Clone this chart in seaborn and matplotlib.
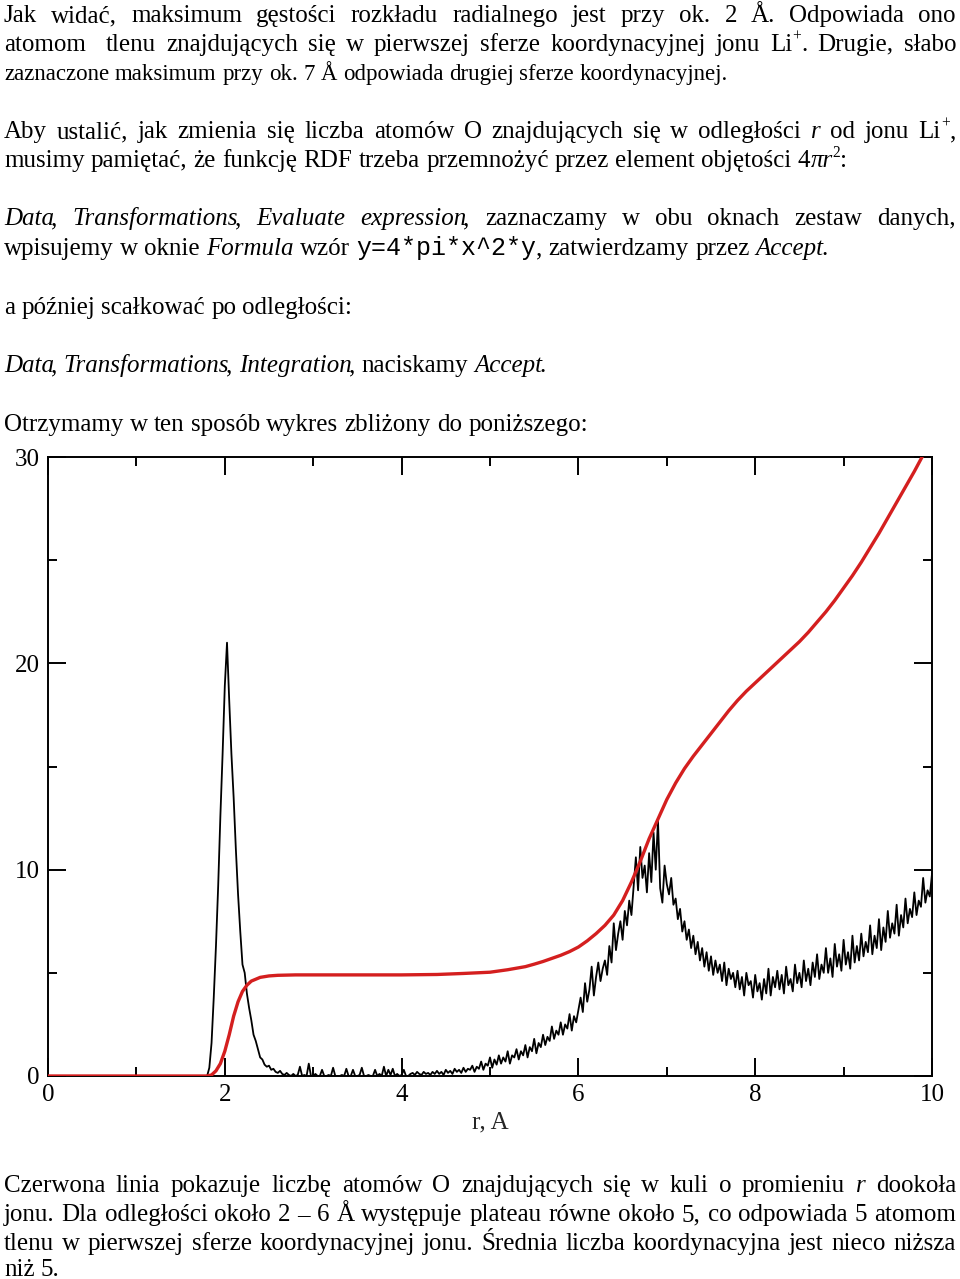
import numpy as np
import pandas as pd
import matplotlib
matplotlib.use("Agg")
import matplotlib.pyplot as plt
import seaborn as sns
from matplotlib.ticker import MultipleLocator

sns.set_style("ticks")
plt.rcParams['font.family'] = ['Liberation Serif', 'DejaVu Serif']

# ---------------- data ----------------
# radial distribution g(r), sampled every 0.025 A from 0 to 10
g_before_peak = [0.0] * 72          # r = 0.000 ... 1.775
g_rdf = [
    # 1.800 - 2.275
    0.0, 0.4, 1.6, 3.8, 6.3, 9.2, 12.6, 15.6, 18.9, 21.0, 18.2, 15.6, 13.5, 11.0, 8.8, 7.0, 5.4, 5.0, 4.0, 3.3,
    # 2.300 - 2.775
    2.7, 2.0, 1.7, 1.3, 0.9, 0.8, 0.55, 0.45, 0.5, 0.3, 0.35, 0.2, 0.15, 0.25, 0.1, 0.05, 0.15, 0.05, 0.0, 0.1,
    # 2.800 - 3.275
    0.0, 0.05, 0.45, 0.0, 0.05, 0.0, 0.6, 0.0, 0.0, 0.1, 0.0, 0.0, 0.3, 0.0, 0.0, 0.05, 0.0, 0.4, 0.0, 0.0,
    # 3.300 - 3.775
    0.0, 0.05, 0.0, 0.35, 0.0, 0.0, 0.3, 0.0, 0.0, 0.05, 0.4, 0.0, 0.0, 0.05, 0.0, 0.0, 0.3, 0.0, 0.1, 0.0,
    # 3.800 - 4.275
    0.45, 0.0, 0.3, 0.05, 0.35, 0.0, 0.1, 0.0, 0.05, 0.3, 0.0, 0.0, 0.1, 0.15, 0.05, 0.2, 0.1, 0.05, 0.2, 0.1,
    # 4.300 - 4.775
    0.15, 0.05, 0.2, 0.1, 0.25, 0.1, 0.2, 0.05, 0.3, 0.15, 0.25, 0.1, 0.35, 0.2, 0.3, 0.15, 0.4, 0.2, 0.35, 0.3,
    # 4.800 - 5.275
    0.5, 0.2, 0.45, 0.35, 0.7, 0.3, 0.6, 0.5, 0.9, 0.4, 0.8, 0.55, 1.0, 0.6, 0.9, 0.7, 1.2, 0.6, 1.0, 0.9,
    # 5.300 - 5.775
    1.3, 0.8, 1.2, 1.0, 1.5, 0.9, 1.4, 1.2, 1.8, 1.1, 1.6, 1.4, 2.0, 1.5, 1.9, 1.7, 2.4, 1.8, 2.2, 2.0,
    # 5.800 - 6.275
    2.6, 2.0, 2.5, 2.3, 3.0, 2.2, 2.9, 2.6, 3.2, 3.8, 3.1, 4.5, 3.6, 4.2, 5.3, 3.9, 4.8, 5.5, 4.6, 5.2,
    # 6.300 - 6.775
    5.6, 4.9, 6.3, 5.5, 7.4, 6.1, 6.9, 7.5, 6.6, 8.0, 7.3, 8.5, 7.8, 9.2, 10.6, 9.0, 11.1, 9.6, 10.2, 8.9,
    # 6.800 - 7.275
    10.8, 9.4, 11.8, 10.0, 12.4, 9.1, 8.4, 10.2, 9.3, 8.8, 9.6, 8.3, 8.6, 7.6, 8.1, 7.0, 7.5, 6.6, 7.1, 6.2,
    # 7.300 - 7.775
    6.8, 5.9, 6.5, 5.6, 6.2, 5.3, 6.0, 5.1, 5.8, 4.9, 5.6, 5.0, 5.4, 4.6, 5.5, 4.4, 5.2, 4.7, 5.0, 4.3,
    # 7.800 - 8.275
    5.1, 4.2, 4.8, 3.9, 5.0, 4.4, 4.6, 3.8, 4.9, 4.1, 4.5, 3.7, 4.7, 4.0, 5.2, 3.9, 4.8, 4.3, 5.1, 4.2,
    # 8.300 - 8.775
    4.9, 4.0, 5.3, 4.4, 4.7, 4.1, 5.4, 4.5, 5.0, 4.3, 5.6, 4.6, 5.2, 4.4, 5.5, 4.8, 5.9, 4.7, 5.4, 5.0,
    # 8.800 - 9.275
    6.2, 5.0, 5.7, 4.8, 6.4, 5.3, 5.9, 5.1, 6.6, 5.4, 6.0, 5.2, 6.8, 5.5, 6.3, 5.6, 6.9, 5.8, 6.5, 6.0,
    # 9.300 - 9.775
    7.3, 5.9, 6.8, 6.2, 7.6, 6.1, 7.2, 6.5, 8.0, 6.7, 7.4, 6.9, 8.3, 6.8, 7.8, 7.2, 8.6, 7.4, 8.1, 7.7,
    # 9.800 - 10.000
    8.9, 7.8, 8.5, 8.2, 9.6, 8.4, 9.0, 8.7, 9.8,
]
g_values = g_before_peak + g_rdf
r_grid = np.linspace(0.0, 10.0, len(g_values))

# running coordination number N(r)
r_red = [0.0, 1.8, 1.85, 1.9, 1.95, 2.0, 2.05, 2.1, 2.15, 2.2, 2.25, 2.3, 2.4, 2.5, 2.6, 2.8,
         3.0, 3.5, 4.0, 4.4, 4.7, 5.0, 5.2, 5.4, 5.5, 5.6, 5.7, 5.8, 5.9, 6.0, 6.1, 6.2, 6.3,
         6.4, 6.5, 6.6, 6.7, 6.8, 6.9, 7.0, 7.1, 7.2, 7.3, 7.4, 7.5, 7.6, 7.7, 7.8, 7.9, 8.0,
         8.1, 8.2, 8.3, 8.4, 8.5, 8.6, 8.7, 8.8, 8.9, 9.0, 9.1, 9.2, 9.3, 9.4, 9.5, 9.6, 9.7,
         9.8, 9.9, 10.0]
n_red = [0.0, 0.0, 0.05, 0.25, 0.6, 1.2, 2.0, 2.9, 3.6, 4.1, 4.4, 4.6, 4.78, 4.85, 4.88, 4.9,
         4.9, 4.9, 4.9, 4.92, 4.97, 5.03, 5.15, 5.3, 5.42, 5.55, 5.7, 5.85, 6.03, 6.25, 6.55, 6.9, 7.3,
         7.8, 8.5, 9.4, 10.4, 11.5, 12.45, 13.4, 14.2, 14.9, 15.5, 16.05, 16.6, 17.15, 17.7, 18.2, 18.65, 19.05,
         19.45, 19.85, 20.25, 20.65, 21.05, 21.5, 22.0, 22.5, 23.05, 23.65, 24.25, 24.9, 25.6, 26.3, 27.05, 27.8, 28.55,
         29.3, 30.1, 30.9]

x_ticks = [0, 2, 4, 6, 8, 10]
y_ticks = [0, 10, 20, 30]
x_label = "r, A"

# ---------------- page text ----------------
text_lines = [
    # (baseline px, text with markup, justified, font size)
    (22,  "Jak widać, maksimum gęstości rozkładu radialnego jest przy ok. 2 Å. Odpowiada ono", True, 18),
    (51,  "atomom  tlenu znajdujących się w pierwszej sferze koordynacyjnej jonu Li[s]+[n]. Drugie, słabo", True, 18),
    (80,  "zaznaczone maksimum przy ok. 7 Å odpowiada drugiej sferze koordynacyjnej.", False, 16.5),
    (138, "Aby ustalić, jak zmienia się liczba atomów O znajdujących się w odległości [i]r od jonu Li[s]+[n],", True, 18),
    (167, "musimy pamiętać, że funkcję RDF trzeba przemnożyć przez element objętości 4[i]πr[s]2[n]:", False, 18),
    (225, "[i]Data[n], [i]Transformations[n], [i]Evaluate [i]expression[n], zaznaczamy w obu oknach zestaw danych,", True, 18),
    (255, "wpisujemy w oknie [i]Formula wzór [m]y=4*pi*x^2*y[n], zatwierdzamy przez [i]Accept[n].", False, 18),
    (314, "a później scałkować po odległości:", False, 18),
    (372, "[i]Data[n], [i]Transformations[n], [i]Integration[n], naciskamy [i]Accept[n].", False, 18),
    (431, "Otrzymamy w ten sposób wykres zbliżony do poniższego:", False, 18),
    (1192, "Czerwona linia pokazuje liczbę atomów O znajdujących się w kuli o promieniu [i]r dookoła", True, 18),
    (1221, "jonu. Dla odległości około 2 – 6 Å występuje plateau równe około 5, co odpowiada 5 atomom", True, 18),
    (1250, "tlenu w pierwszej sferze koordynacyjnej jonu. Średnia liczba koordynacyjna jest nieco niższa", True, 18),
    (1276, "niż 5.", False, 18),
]

W, H = 960, 1279
FS = 18
SERIF = ['Liberation Serif', 'DejaVu Serif']


def style_props(style, size):
    if style == 'i':
        return dict(family=SERIF, style='italic', size=size)
    if style == 'm':
        return dict(family=['Liberation Mono', 'DejaVu Sans Mono'], size=size)
    if style == 's':
        return dict(family=SERIF, size=size * 0.62)
    return dict(family=SERIF, style='normal', size=size)


fig = plt.figure(figsize=(W / 100, H / 100), dpi=100)
fig.patch.set_facecolor('white')
renderer = fig.canvas.get_renderer()


def parse_word(word):
    segs = []
    style = 'n'
    i = 0
    buf = ''
    while i < len(word):
        if word[i] == '[' and i + 2 < len(word) and word[i + 2] == ']':
            if buf:
                segs.append((buf, style))
                buf = ''
            style = word[i + 1]
            i += 3
            continue
        buf += word[i]
        i += 1
    if buf:
        segs.append((buf, style))
    return segs


_cache = {}


def measure(text, style, size):
    key = (text, style, size)
    if key not in _cache:
        t = fig.text(0, 0, text, **style_props(style, size))
        _cache[key] = t.get_window_extent(renderer=renderer).width
        t.remove()
    return _cache[key]


def advance(text, style, size):
    # approximate pen advance (not ink width)
    return measure(text + 'l', style, size) - measure('l', style, size)


def seg_advances(wd, size):
    advs = []
    for k, (t, s) in enumerate(wd):
        a = advance(t, s, size)
        if s == 'i' and k + 1 < len(wd) and wd[k + 1][1] == 'n':
            a -= 3.0   # tighten italic -> upright punctuation
        advs.append(a)
    return advs


X0, X1 = 4, 956

for base, line, justify, size in text_lines:
    space_w = advance("a ", 'n', size) - advance("a", 'n', size)
    words = [parse_word(w) for w in line.split(' ')]
    advs_all = [seg_advances(wd, size) for wd in words]
    widths = [sum(a) for a in advs_all]
    if justify and len(words) > 1:
        gap = (X1 - X0 - sum(widths)) / (len(words) - 1)
    else:
        gap = space_w
    x = X0
    for wd, advs, ww in zip(words, advs_all, widths):
        xx = x
        for (t, s), a in zip(wd, advs):
            yb = base - (0.55 * size if s == 's' else 0)
            fig.text(xx / W, 1 - yb / H, t, ha='left', va='baseline', color='black',
                     **style_props(s, size))
            xx += a
        x += ww + gap

# ---------------- chart ----------------
ax = fig.add_axes([48 / W, 1 - 1076 / H, 884 / W, 619 / H])
ax.set_facecolor('white')
df_g = pd.DataFrame({'r': r_grid, 'g': g_values})
df_n = pd.DataFrame({'r': r_red, 'n': n_red})
sns.lineplot(data=df_g, x='r', y='g', ax=ax, color='black', linewidth=1.3,
             estimator=None, sort=False)
sns.lineplot(data=df_n, x='r', y='n', ax=ax, color='#d41f1f', linewidth=2.4,
             estimator=None, sort=False, zorder=3)

ax.set_xlim(0, 10)
ax.set_ylim(0, 30)
ax.set_xticks(x_ticks)
ax.set_yticks(y_ticks)
ax.xaxis.set_minor_locator(MultipleLocator(1))
ax.yaxis.set_minor_locator(MultipleLocator(5))
ax.tick_params(which='both', direction='in', top=True, right=True, width=1.4,
               labelsize=FS, pad=6, colors='black')
ax.tick_params(which='major', length=13)
ax.tick_params(which='minor', length=6.5)
for sp in ax.spines.values():
    sp.set_linewidth(1.4)
    sp.set_color('black')
ax.set_xlabel(x_label, fontsize=FS, labelpad=4)
ax.set_ylabel('')

fig.savefig('out.png', dpi=100, facecolor='white')
